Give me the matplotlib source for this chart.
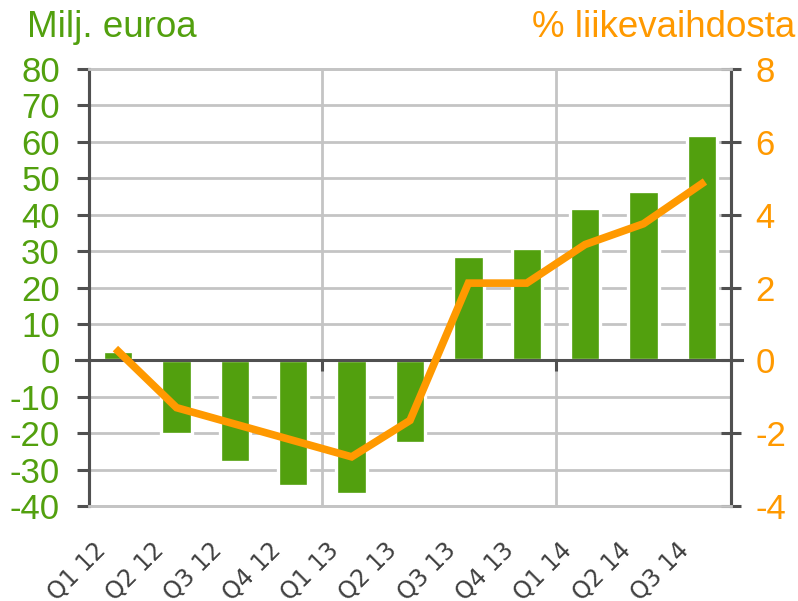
import numpy as np
import matplotlib
matplotlib.use('Agg')
import matplotlib.pyplot as plt
import matplotlib.transforms as mtransforms

quarters = ['Q1 12', 'Q2 12', 'Q3 12', 'Q4 12', 'Q1 13', 'Q2 13',
            'Q3 13', 'Q4 13', 'Q1 14', 'Q2 14', 'Q3 14']
result_meur = [2.5, -20.3, -27.8, -34.5, -36.8, -22.7, 28.6, 30.8, 41.8, 46.4, 62.0]
result_pct = [0.25, -1.3, -1.75, -2.2, -2.65, -1.65, 2.12, 2.12, 3.18, 3.75, 4.85]
left_ticks = [-40, -30, -20, -10, 0, 10, 20, 30, 40, 50, 60, 70, 80]
right_ticks = [-4, -2, 0, 2, 4, 6, 8]

GREEN = '#52a00e'
ORANGE = '#ff9900'
DARK = '#505050'
GRID = '#c4c4c4'

plt.rcParams['font.family'] = ['Liberation Sans', 'DejaVu Sans']
plt.rcParams['axes.unicode_minus'] = False

fig = plt.figure(figsize=(7.98, 6.01), dpi=100)
ax = fig.add_axes([89 / 798, 1 - 506 / 601, 642 / 798, 437 / 601])
ax2 = ax.twinx()

x = np.arange(len(quarters))

# grid
ax.set_axisbelow(True)
ax.yaxis.grid(True, color=GRID, linewidth=2.0)
for xv in [3.5, 7.5]:
    ax.axvline(xv, color=GRID, linewidth=2.0, zorder=0.5)

ax.bar(x, result_meur, width=0.52, color=GREEN, edgecolor='white',
       linewidth=2.4, zorder=2)

# zero line with small ticks at year boundaries
ax.axhline(0, xmin=-13 / 642, xmax=1 + 11 / 642, color=DARK,
           linewidth=2.2, clip_on=False, zorder=3)
ax.plot([3.5, 7.5], [0, 0], linestyle='none', marker=3, markersize=8,
        markeredgewidth=2.2, color=DARK, zorder=3)

ax.set_xlim(-0.5, len(quarters) - 0.5)
ax.set_ylim(-40, 80)
ax.set_yticks(left_ticks)
ax.tick_params(axis='y', colors=DARK, labelcolor=GREEN, labelsize=25,
               length=9, width=2.2, direction='out', pad=12)

ax.set_xticks(x)
ax.set_xticklabels(quarters, family='DejaVu Sans')
ax.tick_params(axis='x', length=0, labelsize=17, labelcolor='#404040', pad=23)
offset = mtransforms.ScaledTranslation(-25 / 100, 0, fig.dpi_scale_trans)
for lab in ax.get_xticklabels():
    lab.set_rotation(45)
    lab.set_rotation_mode('anchor')
    lab.set_ha('right')
    lab.set_va('top')
    lab.set_transform(lab.get_transform() + offset)

ax2.plot(x, result_pct, color=ORANGE, linewidth=5.5, solid_joinstyle='miter',
         zorder=4)
ax2.set_ylim(-4, 8)
ax2.set_yticks(right_ticks)
ax2.tick_params(axis='y', colors=DARK, labelcolor=ORANGE, labelsize=25,
                length=15, width=2.2, direction='inout', pad=10)

for a in (ax, ax2):
    a.spines['top'].set_color(GRID)
    a.spines['top'].set_linewidth(2.0)
    a.spines['bottom'].set_color(GRID)
    a.spines['bottom'].set_linewidth(2.0)
    a.spines['left'].set_color(DARK)
    a.spines['left'].set_linewidth(2.2)
    a.spines['right'].set_color(DARK)
    a.spines['right'].set_linewidth(2.2)
ax.set_zorder(ax2.get_zorder() - 1)
ax2.patch.set_visible(False)
ax.patch.set_visible(True)

fig.text(27 / 798, 1 - 37 / 601, 'Milj. euroa', color=GREEN, fontsize=26.5,
         ha='left', va='baseline')
fig.text(795 / 798, 1 - 37 / 601, '% liikevaihdosta', color=ORANGE,
         fontsize=26.5, ha='right', va='baseline')

fig.savefig('out.png', dpi=100)
